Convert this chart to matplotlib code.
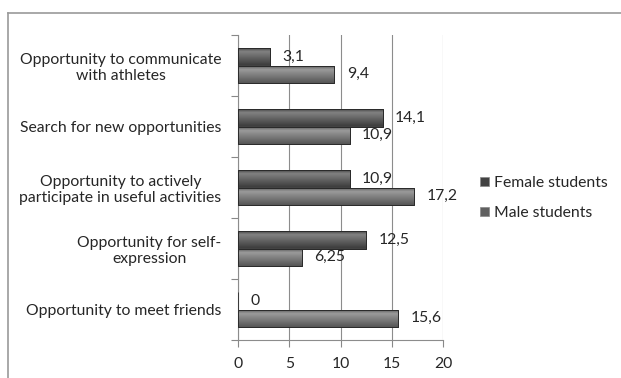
import numpy as np
import matplotlib
matplotlib.use("Agg")
import matplotlib.pyplot as plt
from matplotlib.lines import Line2D
from matplotlib.patches import Patch

categories = [
    "Opportunity to communicate\nwith athletes",
    "Search for new opportunities",
    "Opportunity to actively\nparticipate in useful activities",
    "Opportunity for self-\nexpression",
    "Opportunity to meet friends",
]
female = [3.1, 14.1, 10.9, 12.5, 0]
male = [9.4, 10.9, 17.2, 6.25, 15.6]
female_labels = ["3,1", "14,1", "10,9", "12,5", "0"]
male_labels = ["9,4", "10,9", "17,2", "6,25", "15,6"]
xticks = [0, 5, 10, 15, 20]

plt.rcParams["font.family"] = ["Lato", "DejaVu Sans"]
text_color = "#262626"
fs = 11.3

fig = plt.figure(figsize=(6.21, 3.78), dpi=100)
ax = fig.add_axes([238 / 621, 1 - 340 / 378, (443 - 238) / 621, (340 - 35) / 378])

n = len(categories)
y = np.arange(n)
h = 0.29
fem_col = "#424242"
male_col = "#606060"

bars_f = ax.barh(y - h / 2, female, height=h, color=fem_col, edgecolor="#2a2a2a",
                 linewidth=0.6, zorder=3)
bars_m = ax.barh(y + h / 2, male, height=h, color=male_col, edgecolor="#3a3a3a",
                 linewidth=0.6, zorder=3)

# bevelled shading on each bar
grad = np.concatenate([np.linspace(0.0, 1.0, 25), np.linspace(1.0, 0.1, 75)])
grad = grad.reshape(-1, 1)
for bars, base in ((bars_f, (0.26, 0.26, 0.26)), (bars_m, (0.38, 0.38, 0.38))):
    for b in bars:
        w = b.get_width()
        if w <= 0:
            continue
        x0, y0 = b.get_x(), b.get_y()
        hh = b.get_height()
        rgb = np.zeros((grad.shape[0], 1, 3))
        for k in range(3):
            rgb[:, 0, k] = base[k] * 0.8 + grad[:, 0] * 0.3
        rgb = np.clip(rgb, 0, 1)
        im = ax.imshow(rgb, extent=(x0, x0 + w, y0 + hh, y0), aspect="auto",
                       zorder=3.5, interpolation="bilinear")
        im.set_clip_path(b)
        ax.add_patch(plt.Rectangle((x0, y0), w, hh, fill=False,
                                   edgecolor="#2a2a2a", linewidth=0.7, zorder=4))

for yi, v, lab in zip(y, female, female_labels):
    ax.text(v + 1.2, yi - h / 2, lab, va="center", ha="left", fontsize=fs,
            color=text_color, zorder=5)
for yi, v, lab in zip(y, male, male_labels):
    ax.text(v + 1.2, yi + h / 2, lab, va="center", ha="left", fontsize=fs,
            color=text_color, zorder=5)

ax.set_xlim(0, 20)
ax.set_ylim(n - 0.5, -0.5)
ax.set_xticks(xticks)
ax.set_xticklabels([str(t) for t in xticks], fontsize=fs, color=text_color)

ax.set_yticks(y)
ax.set_yticklabels(categories, fontsize=fs, color=text_color, multialignment="center")
ax.set_yticks(np.arange(-0.5, n, 1.0), minor=True)
ax.tick_params(axis="y", which="major", length=0, pad=12)
ax.tick_params(axis="y", which="minor", length=5, color="#888888", width=0.8)
ax.tick_params(axis="x", length=5, color="#888888", width=0.8, pad=7)

ax.grid(axis="x", color="#8c8c8c", linewidth=0.8, zorder=0)
ax.set_axisbelow(True)
for s in ("top", "right"):
    ax.spines[s].set_visible(False)
for s in ("left", "bottom"):
    ax.spines[s].set_color("#8c8c8c")
    ax.spines[s].set_linewidth(0.8)

handles = [Patch(facecolor=fem_col, edgecolor="#888888", linewidth=0.5),
           Patch(facecolor=male_col, edgecolor="#888888", linewidth=0.5)]
fig.legend(handles, ["Female students", "Male students"], loc="center left",
           bbox_to_anchor=(466 / 621, 1 - 198 / 378), frameon=False, fontsize=fs,
           handlelength=0.55, handleheight=0.55, handletextpad=0.35, labelspacing=1.0,
           labelcolor=text_color)

# chart frame
fig.add_artist(Line2D([8 / 621, 8 / 621], [0, 1 - 13 / 378], color="#9a9a9a",
                      linewidth=1.2, transform=fig.transFigure))
fig.add_artist(Line2D([8 / 621, 1], [1 - 13 / 378, 1 - 13 / 378], color="#9a9a9a",
                      linewidth=1.2, transform=fig.transFigure))

fig.savefig("out.png", dpi=100)
